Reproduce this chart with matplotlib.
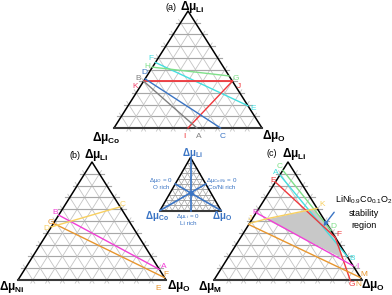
import numpy as np
import matplotlib
matplotlib.use('Agg')
import matplotlib.pyplot as plt
from matplotlib.patches import Polygon

plt.rcParams['font.family'] = ['Liberation Sans', 'DejaVu Sans']
plt.rcParams['mathtext.fontset'] = 'custom'
plt.rcParams['mathtext.rm'] = 'Liberation Sans'
plt.rcParams['mathtext.it'] = 'Liberation Sans:italic'
plt.rcParams['mathtext.bf'] = 'Liberation Sans:bold'

W, H = 392, 295

# ternary points are (Li fraction, O fraction); the rest is Co / Ni / M
# panel (a)
a_FE = [(0.56, 0.0), (0.19, 0.81)]
a_HG = [(0.52, 0.0), (0.445, 0.555)]
a_KJ = [(0.40, 0.0), (0.40, 0.60)]
a_IJ = [(0.0, 0.50), (0.40, 0.60)]
a_DC = [(0.42, 0.0), (0.0, 0.72)]
a_BA = [(0.40, 0.0), (0.0, 0.56)]

# panel (b)
b_BA = [(0.55, 0.0), (0.09, 0.91)]
b_GF = [(0.48, 0.0), (0.02, 0.98)]
b_DC = [(0.45, 0.0), (0.62, 0.38)]

# panel (c)
c_CD = [(0.93, 0.0), (0.42, 0.58)]
c_AB = [(0.89, 0.0), (0.20, 0.80)]
c_EFG = [(0.83, 0.0), (0.36, 0.64), (0.0, 0.92)]
c_HI = [(0.57, 0.0), (0.12, 0.88)]
c_JK = [(0.48, 0.0), (0.52, 0.10), (0.607, 0.393)]
c_LM = [(0.47, 0.0), (0.02, 0.98)]
c_region = [(0.513, 0.095), (0.597, 0.37), (0.458, 0.555), (0.373, 0.638), (0.186, 0.772)]
c_arrow = [(0.593, 0.527), (0.438, 0.509)]

# key triangle
key_lines = [[(1.0, 0.0), (0.0, 0.5)],
             [(0.0, 0.0), (0.5, 0.5)],
             [(0.0, 1.0), (0.5, 0.0)]]

# colours
cyan = '#45dfe0'
green = '#7fe08a'
red = '#f0383c'
blue = '#3a74c4'
gray = '#808080'
magenta = '#f23fd6'
orange = '#e8962e'
yellow = '#f8d060'
pink = '#f0406a'

fig = plt.figure(figsize=(W / 100, H / 100), dpi=100)


def tri_axes(left, base, width, height):
    ax = fig.add_axes([left / W, (H - base) / H, width / W, height / H])
    ax.set_xlim(0, 1)
    ax.set_ylim(0, 1)
    ax.axis('off')
    return ax


def xy(pts):
    p = np.array(pts, dtype=float)
    return p[:, 1] + p[:, 0] / 2, p[:, 0]


def draw_grid(ax, n=10, ext=0.03, lw=0.6, col='#c4c4c4', hcol='#a8a8a8'):
    for i in range(1, n):
        t = i / n
        segs = [([(t, 0.0), (t, 1 - t)], hcol, lw * 1.4),      # const Li
                ([(0.0, t), (1 - t, t)], col, lw),             # const O
                ([(0.0, 1 - t), (1 - t, 0.0)], col, lw)]       # const third
        for pts, c, w in segs:
            x, y = xy(pts)
            dx, dy = x[1] - x[0], y[1] - y[0]
            L = np.hypot(dx, dy)
            x = [x[0] - dx / L * ext, x[1] + dx / L * ext]
            y = [y[0] - dy / L * ext, y[1] + dy / L * ext]
            ax.plot(x, y, color=c, lw=w, clip_on=False, zorder=1)
    ax.plot([0, 0.5, 1], [0, 1, 0], color='black', lw=1.1, clip_on=False, zorder=3)
    ax.plot([0, 1], [0, 0], color='#3a3a3a', lw=1.5, clip_on=False, zorder=3)


def line(ax, pts, c, lw=1.0):
    x, y = xy(pts)
    ax.plot(x, y, color=c, lw=lw, clip_on=False, zorder=4)


def txt(px, py, s, c='black', fs=6, **kw):
    fig.text(px / W, 1 - py / H, s, color=c, fontsize=fs, ha='center', va='center', **kw)


def dmu(sub):
    return r'Δμ$_{\mathbf{' + sub + '}}$'


# ---- panel (a)
ax_a = tri_axes(114, 128, 148, 117)
draw_grid(ax_a)
line(ax_a, a_FE, cyan)
line(ax_a, a_HG, green)
line(ax_a, a_KJ, red, 1.3)
line(ax_a, a_IJ, red)
line(ax_a, a_DC, blue)
line(ax_a, a_BA, gray)
for (px, py, s, c) in [(151, 59, 'F', cyan), (147, 66, 'H', green), (144, 73, 'D', blue),
                       (138, 79, 'B', gray), (135, 86, 'K', pink), (236, 78, 'G', green),
                       (239, 86, 'J', red), (253, 108, 'E', cyan), (184, 136, 'I', red),
                       (199, 136, 'A', gray), (223, 136, 'C', blue)]:
    txt(px, py, s, c)
txt(171, 7, '(a)', fs=6.5)
txt(192, 7, dmu('Li'), fs=8.5, fontweight='bold')
txt(106, 138, dmu('Co'), fs=8.5, fontweight='bold')
txt(274, 136, dmu('O'), fs=8.5, fontweight='bold')

# ---- panel (b)
ax_b = tri_axes(18, 280, 148, 118)
draw_grid(ax_b)
line(ax_b, b_BA, magenta)
line(ax_b, b_GF, orange)
line(ax_b, b_DC, yellow)
for (px, py, s, c) in [(55, 212, 'B', magenta), (51, 222, 'G', orange), (46, 229, 'D', yellow),
                       (123, 204, 'C', yellow), (164, 267, 'A', magenta), (166, 275, 'F', orange),
                       (158, 288, 'E', orange)]:
    txt(px, py, s, c)
txt(75, 155, '(b)', fs=6.5)
txt(96, 155, dmu('Li'), fs=8.5, fontweight='bold')
txt(12, 287, dmu('Ni'), fs=8.5, fontweight='bold')
txt(179, 286, dmu('O'), fs=8.5, fontweight='bold')

# ---- panel (c)
ax_c = tri_axes(214, 280, 148, 118)
draw_grid(ax_c)
rx, ry = xy(c_region)
ax_c.add_patch(Polygon(np.column_stack([rx, ry]), closed=True, facecolor='#c8c8c8',
                       edgecolor='none', zorder=2))
line(ax_c, c_CD, green)
line(ax_c, c_AB, cyan)
line(ax_c, c_EFG, red)
line(ax_c, c_HI, magenta)
line(ax_c, c_JK, yellow)
line(ax_c, c_LM, orange)
axx, axy = xy(c_arrow)
ax_c.annotate('', xy=(axx[1], axy[1]), xytext=(axx[0], axy[0]),
              arrowprops=dict(arrowstyle='-|>', color=blue, lw=1.0, mutation_scale=6),
              annotation_clip=False, zorder=6)
for (px, py, s, c) in [(280, 166, 'C', green), (276, 173, 'A', cyan), (273, 180, 'E', red),
                       (322, 205, 'K', yellow), (333, 227, 'D', green), (339, 234, 'F', red),
                       (352, 258, 'B', cyan), (357, 266, 'I', magenta), (364, 274, 'M', orange),
                       (352, 285, 'G', red), (358, 285, 'N', orange), (255, 212, 'H', magenta),
                       (250, 219, 'J', yellow)]:
    txt(px, py, s, c)
txt(272, 154, '(c)', fs=6.5)
txt(294, 154, dmu('Li'), fs=8.5, fontweight='bold')
txt(210, 287, dmu('M'), fs=8.5, fontweight='bold')
txt(373, 285, dmu('O'), fs=8.5, fontweight='bold')
txt(364, 200, r'LiNi$_{0.9}$Co$_{0.1}$O$_2$', fs=6.5)
txt(364, 213, 'stability', fs=6.5)
txt(364, 225, 'region', fs=6.5)

# ---- key triangle
ax_k = tri_axes(160, 210.5, 61, 53)
draw_grid(ax_k, ext=0.0, lw=0.45, col='#a0a0a0', hcol='#a0a0a0')
for pts in key_lines:
    line(ax_k, pts, blue, 1.2)
cx, cy = xy([(1 / 3, 1 / 3)])
ax_k.plot(cx, cy, 'o', color=blue, ms=2.5, zorder=5)
txt(192, 153, dmu('Li'), c=blue, fs=7, fontweight='bold')
txt(157, 216, dmu('Co'), c=blue, fs=7, fontweight='bold')
txt(222, 216, dmu('O'), c=blue, fs=7, fontweight='bold')
txt(161, 183, 'Δμ$_O$ = 0\nO rich', c=blue, fs=4.5, linespacing=1.1)
txt(222, 183, 'Δμ$_{Co/Ni}$ = 0\nCo/Ni rich', c=blue, fs=4.5, linespacing=1.1)
txt(188, 219, 'Δμ$_{Li}$ = 0\nLi rich', c=blue, fs=4.5, linespacing=1.1)

fig.savefig('out.png', dpi=100)
